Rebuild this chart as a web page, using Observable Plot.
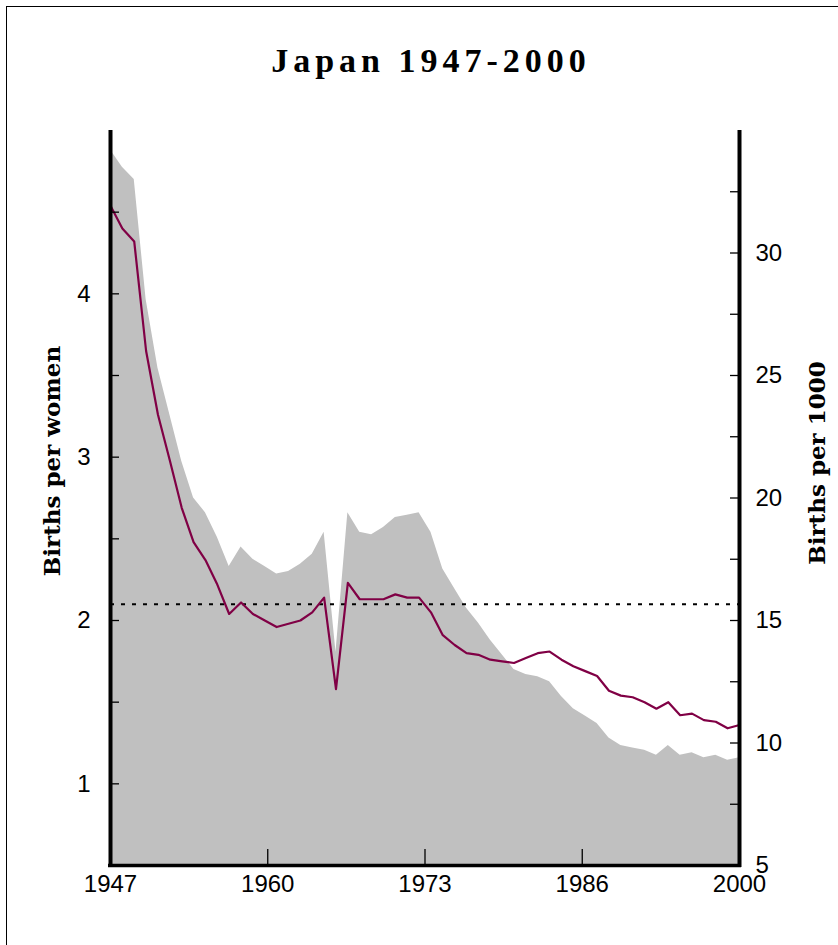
<!DOCTYPE html>
<html>
<head>
<meta charset="utf-8">
<script src="https://cdn.jsdelivr.net/npm/d3@7"></script>
<script src="https://cdn.jsdelivr.net/npm/@observablehq/plot@0.6"></script>
<style>
  body { margin: 0; background: #fff; }
  #wrap { position: relative; width: 838px; height: 945px; overflow: hidden; background: #fff; }
  #chart { position: absolute; left: 0; top: 0; }
  #frame { position: absolute; left: 6px; top: 6px; width: 900px; height: 1000px; border: 1.5px solid #000; pointer-events: none; }
  #title { position: absolute; left: 12px; top: 42px; width: 838px; text-align: center;
           font-family: "Liberation Serif", serif; font-weight: bold; font-size: 34px; letter-spacing: 5px; color: #000; }
</style>
</head>
<body>
<div id="wrap">
  <div id="chart"></div>
  <div id="title">Japan 1947-2000</div>
  <div id="frame"></div>
</div>
<script>
// ---- data ----
const years = [1947,1948,1949,1950,1951,1952,1953,1954,1955,1956,1957,1958,1959,1960,
  1961,1962,1963,1964,1965,1966,1967,1968,1969,1970,1971,1972,1973,1974,1975,1976,1977,
  1978,1979,1980,1981,1982,1983,1984,1985,1986,1987,1988,1989,1990,1991,1992,1993,1994,
  1995,1996,1997,1998,1999,2000];
// Births per women (left axis)
const birthsPerWoman = [4.54,4.40,4.32,3.65,3.26,2.98,2.69,2.48,2.37,2.22,2.04,2.11,2.04,2.00,
  1.96,1.98,2.00,2.05,2.14,1.58,2.23,2.13,2.13,2.13,2.16,2.14,2.14,2.05,1.91,1.85,1.80,
  1.79,1.76,1.75,1.74,1.77,1.80,1.81,1.76,1.72,1.69,1.66,1.57,1.54,1.53,1.50,1.46,1.50,
  1.42,1.43,1.39,1.38,1.34,1.36];
// Births per 1000 (right axis, grey area)
const birthsPer1000 = [34.2,33.5,33.0,28.1,25.3,23.4,21.5,20.0,19.4,18.4,17.2,18.0,17.5,17.2,
  16.9,17.0,17.3,17.7,18.6,13.7,19.4,18.6,18.5,18.8,19.2,19.3,19.4,18.6,17.1,16.3,15.5,
  14.9,14.2,13.6,13.0,12.8,12.7,12.5,11.9,11.4,11.1,10.8,10.2,9.9,9.8,9.7,9.5,9.9,
  9.5,9.6,9.4,9.5,9.3,9.4];
const replacementLevel = 2.1;
const leftTickLabels = [1, 2, 3, 4];
const leftTickMarks = [1, 1.5, 2, 2.5, 3, 3.5, 4, 4.5];
const rightTickLabels = [5, 10, 15, 20, 25, 30];
const rightTickMarks = [7.5, 10, 12.5, 15, 17.5, 20, 22.5, 25, 27.5, 30, 32.5];
const xTickPositions = [1947, 1960.25, 1973.5, 1986.75, 2000];
const xTickLabels = ["1947", "1960", "1973", "1986", "2000"];
const leftDomain = [0.5, 5];
const rightDomain = [5, 35];

// map right-axis values onto the left-axis scale
const toLeft = v => leftDomain[0] + (v - rightDomain[0]) * (leftDomain[1] - leftDomain[0]) / (rightDomain[1] - rightDomain[0]);
const toRight = v => rightDomain[0] + (v - leftDomain[0]) * (rightDomain[1] - rightDomain[0]) / (leftDomain[1] - leftDomain[0]);

const data = years.map((year, i) => ({year, tfr: birthsPerWoman[i], cbr: birthsPer1000[i]}));

const W = 838, H = 945, mL = 110, mR = 99, mT = 130, mB = 80;
const innerW = W - mL - mR, innerH = H - mT - mB;
const axisFont = {fontFamily: "Liberation Sans, Arial, sans-serif", fontSize: 24};
const labelFont = {fontFamily: "DejaVu Serif, serif", fontWeight: "bold", fontSize: 23, textAnchor: "middle"};

const plot = Plot.plot({
  width: W, height: H,
  marginLeft: mL, marginRight: mR, marginTop: mT, marginBottom: mB,
  style: {background: "transparent", color: "#000", overflow: "visible"},
  x: {type: "linear", domain: [1947, 2000], axis: null, label: null},
  y: {type: "linear", domain: leftDomain, axis: null, label: null},
  marks: [
    Plot.areaY(data, {x: "year", y1: leftDomain[0], y2: d => toLeft(d.cbr), fill: "#c0c0c0", curve: "linear"}),
    Plot.ruleY([replacementLevel], {stroke: "#000", strokeWidth: 2, strokeDasharray: "4,7"}),
    Plot.lineY(data, {x: "year", y: "tfr", stroke: "#800045", strokeWidth: 2.2, curve: "linear"}),
    // tick marks (inward)
    Plot.ruleY(leftTickMarks, {y: d => d, insetRight: innerW - 9, stroke: "#000", strokeWidth: 1.3}),
    Plot.ruleY(rightTickMarks.map(toLeft), {y: d => d, insetLeft: innerW - 9, stroke: "#000", strokeWidth: 1.3}),
    Plot.ruleX(xTickPositions.slice(1, -1), {x: d => d, insetTop: innerH - 16, stroke: "#000", strokeWidth: 1.3}),
    // axis lines
    Plot.ruleX([1947], {stroke: "#000", strokeWidth: 4, insetBottom: -2}),
    Plot.ruleX([2000], {stroke: "#000", strokeWidth: 4, insetBottom: -2}),
    Plot.ruleY([leftDomain[0]], {stroke: "#000", strokeWidth: 3.5, insetLeft: -2, insetRight: -2}),
    // tick labels
    Plot.axisY(leftTickLabels, {anchor: "left", label: null, tickSize: 0, tickPadding: 20,
      tickFormat: d => String(d), ...axisFont}),
    Plot.axisY(rightTickLabels.map(toLeft), {anchor: "right", label: null, tickSize: 0, tickPadding: 16,
      tickFormat: d => String(Math.round(toRight(d))), ...axisFont}),
    Plot.axisX(xTickPositions, {anchor: "bottom", label: null, tickSize: 0, tickPadding: 9,
      tickFormat: d => xTickLabels[xTickPositions.indexOf(d)], ...axisFont}),
    // axis titles
    Plot.text(["Births per women"], {frameAnchor: "left", rotate: -90, dx: -58, dy: -37, text: d => d,
      ...labelFont, letterSpacing: 1.3}),
    Plot.text(["Births per 1000"], {frameAnchor: "right", rotate: -90, dx: 78, dy: -35, text: d => d, ...labelFont})
  ]
});
document.getElementById("chart").appendChild(plot);
</script>
</body>
</html>
